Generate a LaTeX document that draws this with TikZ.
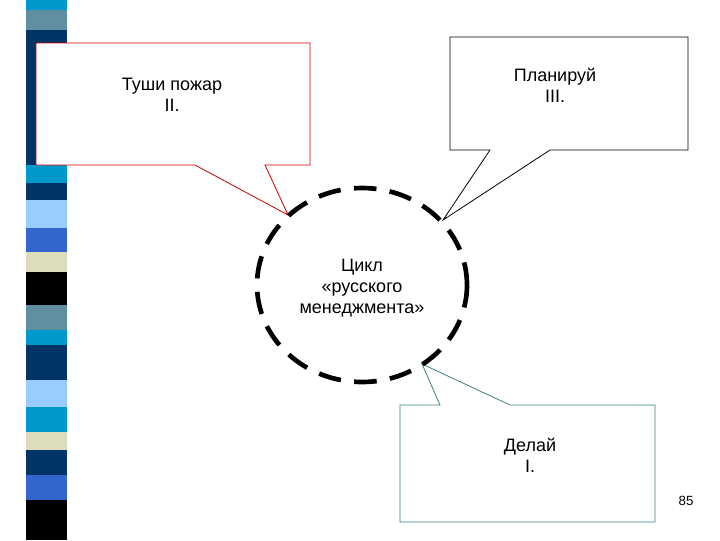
\documentclass[tikz,border=0pt]{standalone}
\usepackage{fontspec}
\setmainfont{Liberation Sans}
\begin{document}
\begin{tikzpicture}[x=0.75pt,y=-0.75pt,
  lbl/.style={font=\fontsize{13.5}{16}\selectfont,align=center}]
\useasboundingbox (0,0) rectangle (720,540);
\fill[white] (0,0) rectangle (720,540);
\definecolor{cy}{HTML}{0099CC}\definecolor{st}{HTML}{5F8FA0}\definecolor{nv}{HTML}{003366}
\definecolor{lb}{HTML}{99CCFF}\definecolor{rb}{HTML}{3366CC}\definecolor{bg}{HTML}{DDDDBB}
\foreach \a/\b/\c in {0/10/cy,10/30/st,30/165/nv,165/183/cy,183/200/nv,200/228/lb,228/252/rb,252/272/bg,272/305/black,305/330/st,330/345/cy,345/380/nv,380/407/lb,407/432/cy,432/450/bg,450/475/nv,475/500/rb,500/540/black}
  \fill[\c] (26,\a) rectangle (67,\b);
% callout 1
\draw[red!80!black,fill=white,line width=0.6pt] (36,43) -- (310,43) -- (310,165) -- (265,165) -- (288,215) -- (195,165) -- (36,165) -- cycle;
\node[lbl] (t1) at (172,95) {Туши пожар\\II.};
% callout 2
\draw[black,fill=white,line width=0.6pt] (450,37) -- (688,37) -- (688,150) -- (550,150) -- (443,220) -- (490,150) -- (450,150) -- cycle;
\node[lbl] (t2) at (555,85) {Планируй\\III.};
% callout 3
\draw[teal!50!gray,fill=white,line width=0.6pt] (400,405) -- (440,405) -- (422,364) -- (510,405) -- (655,405) -- (655,522) -- (400,522) -- cycle;
\node[lbl] (t3) at (530,455) {Делай\\I.};
\node[font=\fontsize{10}{12}\selectfont] (n) at (686,501) {85};
% circle
\draw[line width=3.5pt,dash pattern=on 17pt off 10pt] (362,285) ellipse [x radius=105,y radius=97];
\node[lbl] (c) at (362,288) {Цикл\\«русского\\менеджмента»};
\end{tikzpicture}
\end{document}
